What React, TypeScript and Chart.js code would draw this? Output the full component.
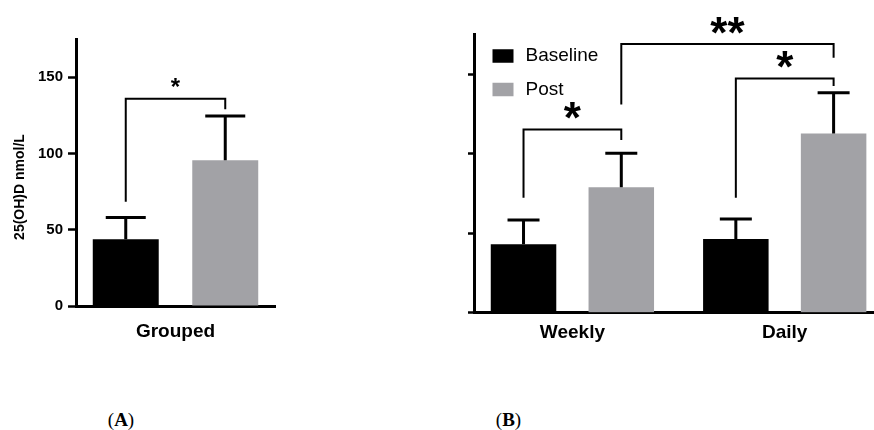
import React, { useEffect, useRef } from "react";
import { Chart, registerables } from "chart.js";

Chart.register(...registerables);

// ---------- data ----------
const seriesNames = ["Baseline", "Post"];

const groupedCategories = ["Grouped"];
const groupedBaseline = [43.8];
const groupedBaselineSD = [14.2];
const groupedPost = [95.5];
const groupedPostSD = [29.0];

const regimenCategories = ["Weekly", "Daily"];
const regimenBaseline = [43.0, 46.4];
const regimenBaselineSD = [15.3, 12.6];
const regimenPost = [78.9, 112.8];
const regimenPostSD = [21.4, 25.6];

const yTickValues = [0, 50, 100, 150];
const yMax = 175;
const yAxisTitle = "25(OH)D nmol/L";

// significance brackets: from/to = [datasetIndex, categoryIndex]; heights in nmol/L
const groupedBrackets = [
  { from: [0, 0], to: [1, 0], leftEnd: 68.3, top: 135.9, rightEnd: 128.9, label: "*" },
];
const regimenBrackets = [
  { from: [0, 0], to: [1, 0], leftEnd: 72.3, top: 115.3, rightEnd: 108.6, label: "*" },
  { from: [0, 1], to: [1, 1], leftEnd: 72.3, top: 147.4, rightEnd: 142.6, label: "*" },
  { from: [1, 0], to: [1, 1], leftEnd: 131.0, top: 169.0, rightEnd: 160.4, label: "**" },
];

const panelLabels = ["A", "B"];

// ---------- styles ----------
const SANS = '"Liberation Sans", Arial, Helvetica, sans-serif';
const BLACK = "#000000";
const GREY = "#a2a2a6";

// ---------- plugins ----------
const errorBarsPlugin = {
  id: "errorBars",
  afterDatasetsDraw(chart: any, _args: any, opts: any) {
    const { ctx } = chart;
    const y = chart.scales.y;
    ctx.save();
    ctx.strokeStyle = "#000";
    ctx.lineWidth = opts.lineWidth;
    ctx.lineCap = "butt";
    chart.data.datasets.forEach((_ds: any, di: number) => {
      const meta = chart.getDatasetMeta(di);
      const sds = opts.sd[di];
      meta.data.forEach((bar: any, i: number) => {
        const parsed = meta.controller.getParsed(i);
        const v = parsed.y;
        const top = y.getPixelForValue(v + sds[i]);
        ctx.beginPath();
        ctx.moveTo(bar.x, bar.y);
        ctx.lineTo(bar.x, top);
        ctx.moveTo(bar.x - opts.capWidth / 2, top);
        ctx.lineTo(bar.x + opts.capWidth / 2, top);
        ctx.stroke();
      });
    });
    ctx.restore();
  },
};

const bracketsPlugin = {
  id: "brackets",
  afterDatasetsDraw(chart: any, _args: any, opts: any) {
    const { ctx } = chart;
    const y = chart.scales.y;
    ctx.save();
    ctx.strokeStyle = "#000";
    ctx.fillStyle = "#000";
    ctx.lineWidth = opts.lineWidth;
    ctx.lineJoin = "miter";
    ctx.font = opts.font;
    ctx.textAlign = "center";
    ctx.textBaseline = "alphabetic";
    opts.items.forEach((b: any) => {
      const x1 = chart.getDatasetMeta(b.from[0]).data[b.from[1]].x;
      const x2 = chart.getDatasetMeta(b.to[0]).data[b.to[1]].x;
      const y1 = y.getPixelForValue(b.leftEnd);
      const yt = y.getPixelForValue(b.top);
      const y2 = y.getPixelForValue(b.rightEnd);
      ctx.beginPath();
      ctx.moveTo(x1, y1);
      ctx.lineTo(x1, yt);
      ctx.lineTo(x2, yt);
      ctx.lineTo(x2, y2);
      ctx.stroke();
      const m = ctx.measureText(b.label);
      const cy = yt - opts.labelGap;
      const base = cy + (m.actualBoundingBoxAscent - m.actualBoundingBoxDescent) / 2;
      ctx.fillText(b.label, (x1 + x2) / 2, base);
    });
    ctx.restore();
  },
};

const axisTitlePlugin = {
  id: "axisTitle",
  afterDraw(chart: any, _args: any, opts: any) {
    const { ctx } = chart;
    ctx.save();
    ctx.translate(opts.x, opts.y);
    ctx.rotate(-Math.PI / 2);
    ctx.font = opts.font;
    ctx.fillStyle = "#000";
    ctx.textAlign = "center";
    ctx.textBaseline = "middle";
    ctx.fillText(opts.text, 0, 0);
    ctx.restore();
  },
};

const boxLegendPlugin = {
  id: "boxLegend",
  afterDraw(chart: any, _args: any, opts: any) {
    const { ctx } = chart;
    ctx.save();
    ctx.font = opts.font;
    ctx.textAlign = "left";
    ctx.textBaseline = "middle";
    chart.data.datasets.forEach((ds: any, i: number) => {
      const cy = opts.y + i * opts.rowGap;
      ctx.fillStyle = ds.backgroundColor;
      ctx.fillRect(opts.x, cy - opts.boxHeight / 2, opts.boxWidth, opts.boxHeight);
      ctx.fillStyle = "#000";
      ctx.fillText(ds.label, opts.x + opts.boxWidth + opts.textGap, cy);
    });
    ctx.restore();
  },
};

function yAxisOptions(showLabels: boolean, width: number, tickLength: number) {
  return {
    min: 0,
    max: yMax,
    afterBuildTicks: (s: any) => {
      s.ticks = yTickValues.map((value) => ({ value }));
    },
    grid: { drawOnChartArea: false, drawTicks: true, tickLength, tickWidth: 2.5, tickColor: "#000" },
    border: { color: "#000", width: 3 },
    ticks: {
      display: showLabels,
      color: "#000",
      font: { family: SANS, size: 15, weight: "bold" },
      padding: 5,
    },
    afterFit: (s: any) => {
      s.width = width;
    },
  };
}

export default function App() {
  const leftRef = useRef<HTMLCanvasElement | null>(null);
  const rightRef = useRef<HTMLCanvasElement | null>(null);

  useEffect(() => {
    const left = new Chart(leftRef.current as HTMLCanvasElement, {
      type: "bar",
      data: {
        labels: groupedCategories,
        datasets: [
          {
            label: seriesNames[0],
            data: groupedBaseline,
            backgroundColor: BLACK,
            categoryPercentage: 1,
            barPercentage: 0.663,
          },
          {
            label: seriesNames[1],
            data: groupedPost,
            backgroundColor: GREY,
            categoryPercentage: 1,
            barPercentage: 0.663,
          },
        ],
      },
      options: {
        responsive: false,
        animation: false,
        devicePixelRatio: 1,
        layout: { padding: { top: 39, right: 15, bottom: 0, left: 0 } },
        plugins: {
          legend: { display: false },
          tooltip: { enabled: false },
          errorBars: { sd: [groupedBaselineSD, groupedPostSD], capWidth: 40, lineWidth: 3 },
          brackets: { items: groupedBrackets, lineWidth: 2, font: `bold 24px ${SANS}`, labelGap: 16 },
          axisTitle: { text: yAxisTitle, x: 20, y: 187, font: `bold 14px ${SANS}` },
        } as any,
        scales: {
          x: {
            grid: { display: false, drawTicks: false },
            border: { color: "#000", width: 3 },
            ticks: { color: "#000", font: { family: SANS, size: 19, weight: "bold" }, padding: 14 },
            afterFit: (s: any) => {
              s.height = 54;
            },
          },
          y: yAxisOptions(true, 76, 8) as any,
        },
      },
      plugins: [errorBarsPlugin, bracketsPlugin, axisTitlePlugin],
    });

    const right = new Chart(rightRef.current as HTMLCanvasElement, {
      type: "bar",
      data: {
        datasets: [
          {
            label: seriesNames[0],
            data: regimenBaseline.map((y, i) => ({ x: i, y })),
            backgroundColor: BLACK,
            categoryPercentage: 0.921,
            barPercentage: 0.67,
          },
          {
            label: seriesNames[1],
            data: regimenPost.map((y, i) => ({ x: i, y })),
            backgroundColor: GREY,
            categoryPercentage: 0.921,
            barPercentage: 0.67,
          },
        ],
      },
      options: {
        responsive: false,
        animation: false,
        devicePixelRatio: 1,
        layout: { padding: { top: 34.5, right: 0, bottom: 0, left: 0 } },
        plugins: {
          legend: { display: false },
          tooltip: { enabled: false },
          errorBars: { sd: [regimenBaselineSD, regimenPostSD], capWidth: 32, lineWidth: 3 },
          brackets: { items: regimenBrackets, lineWidth: 2, font: `bold 44px ${SANS}`, labelGap: 19 },
          boxLegend: {
            x: 92.5,
            y: 56,
            rowGap: 33.5,
            boxWidth: 21,
            boxHeight: 13.5,
            textGap: 12,
            font: `19px ${SANS}`,
          },
        } as any,
        scales: {
          x: {
            type: "linear",
            min: -0.4635,
            max: 1.4205,
            offset: false,
            afterBuildTicks: (s: any) => {
              s.ticks = regimenCategories.map((_c, i) => ({ value: i }));
            },
            grid: { display: false, drawTicks: false },
            border: { color: "#000", width: 3 },
            ticks: {
              color: "#000",
              font: { family: SANS, size: 19, weight: "bold" },
              padding: 9,
              autoSkip: false,
              maxRotation: 0,
              callback: (v: any) => regimenCategories[v] ?? "",
            },
            afterFit: (s: any) => {
              s.height = 47.3;
            },
          } as any,
          y: yAxisOptions(false, 74, 6) as any,
        },
      },
      plugins: [errorBarsPlugin, bracketsPlugin, boxLegendPlugin],
    });

    return () => {
      left.destroy();
      right.destroy();
    };
  }, []);

  const captionStyle = (cx: number): React.CSSProperties => ({
    position: "absolute",
    left: cx - 50,
    width: 100,
    top: 408,
    lineHeight: "24px",
    textAlign: "center",
    fontFamily: '"Liberation Serif", "Times New Roman", serif',
    fontSize: 19,
    color: "#000",
  });

  return (
    <div
      style={{
        position: "fixed",
        left: 0,
        top: 0,
        width: 874,
        height: 430,
        overflow: "hidden",
        background: "#fff",
      }}
    >
      <canvas
        ref={leftRef}
        width={290}
        height={360}
        style={{ position: "absolute", left: 0, top: 0, width: 290, height: 360 }}
      />
      <canvas
        ref={rightRef}
        width={474}
        height={360}
        style={{ position: "absolute", left: 400, top: 0, width: 474, height: 360 }}
      />
      <div style={captionStyle(121)}>
        (<b>{panelLabels[0]}</b>)
      </div>
      <div style={captionStyle(508.5)}>
        (<b>{panelLabels[1]}</b>)
      </div>
    </div>
  );
}
